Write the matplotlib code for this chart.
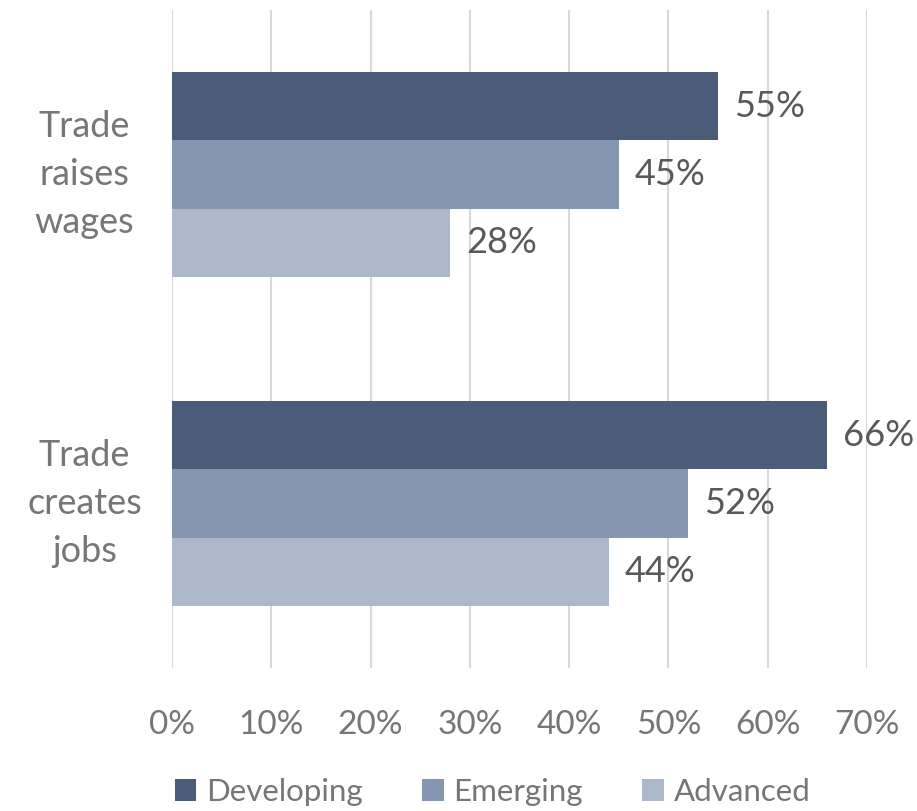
import numpy as np
import matplotlib.pyplot as plt
from matplotlib.patches import Patch

# Survey results (share agreeing)
categories = ["Trade\nraises\nwages", "Trade\ncreates\njobs"]
series_names = ["Developing", "Emerging", "Advanced"]
developing = [0.55, 0.66]
emerging = [0.45, 0.52]
advanced = [0.28, 0.44]
x_ticks = [0, 0.1, 0.2, 0.3, 0.4, 0.5, 0.6, 0.7]

colors = ["#4a5c78", "#8496b0", "#adb9cb"]
text_color = "#767676"
plt.rcParams['font.family'] = ['Lato', 'DejaVu Sans']

fig = plt.figure(figsize=(9.17, 8.11), dpi=100)
ax = fig.add_axes([0.1876, 0.1763, 0.7579, 0.8114])

bar_h = 0.207
y = np.arange(len(categories))
for i, vals in enumerate([developing, emerging, advanced]):
    pos = y + (i - 1) * bar_h
    ax.barh(pos, vals, height=bar_h, color=colors[i], zorder=3)
    for p, v in zip(pos, vals):
        ax.text(v + 0.016, p, f"{v:.0%}", va="center", ha="left",
                fontsize=26, color="#595959")

ax.set_ylim(1.5, -0.5)
ax.set_xlim(0, 0.7)
ax.set_xticks(x_ticks)
ax.set_xticklabels([f"{t:.0%}" for t in x_ticks])
ax.set_yticks(y)
ax.set_yticklabels(categories, ha="center", va="center", linespacing=1.55)
ax.tick_params(axis="y", length=0, pad=63, labelsize=26, labelcolor=text_color)
ax.tick_params(axis="x", length=0, pad=30, labelsize=24, labelcolor=text_color)
ax.grid(axis="x", color="#d9d9d9", linewidth=1.5, zorder=0)
for s in ax.spines.values():
    s.set_visible(False)

handles = [Patch(facecolor=c, label=n) for c, n in zip(colors, series_names)]
leg = fig.legend(handles=handles, loc="lower center", ncol=3, frameon=False,
                 bbox_to_anchor=(0.537, -0.028), fontsize=22.5, handlelength=0.7,
                 handleheight=0.7, handletextpad=0.3, columnspacing=1.9)
for t in leg.get_texts():
    t.set_color(text_color)

fig.savefig("out.png", dpi=100)
